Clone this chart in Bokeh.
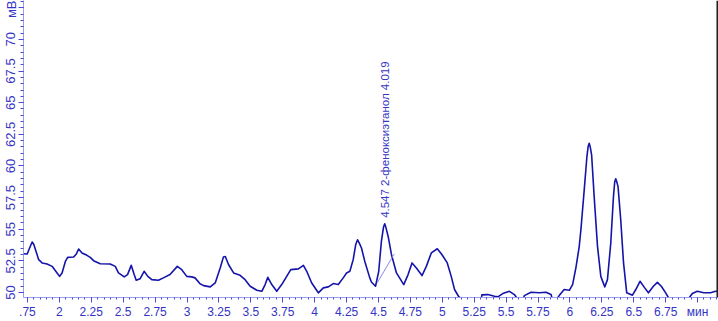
from bokeh.plotting import figure
from bokeh.models import Range1d, SingleIntervalTicker, Span
from bokeh.core.properties import value
from bokeh.embed import file_html
from bokeh.resources import INLINE

# retention time (min) and detector signal (mV)
time_min = [1.721, 1.748, 1.770, 1.787, 1.800, 1.813, 1.838, 1.865, 1.904, 1.943, 1.982, 2.002,
            2.021, 2.047, 2.065, 2.112, 2.133, 2.151, 2.177, 2.216, 2.242, 2.268,
            2.320, 2.398, 2.438, 2.463, 2.508, 2.534, 2.563, 2.586, 2.602, 2.633,
            2.664, 2.693, 2.724, 2.776, 2.815, 2.867, 2.924, 2.959, 2.998, 3.037,
            3.063, 3.102, 3.130, 3.182, 3.221, 3.260, 3.285, 3.300, 3.326, 3.365, 3.416,
            3.455, 3.495, 3.547, 3.586, 3.612, 3.633, 3.664, 3.703, 3.742, 3.781,
            3.813, 3.873, 3.912, 3.938, 3.977, 4.029, 4.068, 4.107, 4.146, 4.185,
            4.224, 4.250, 4.276, 4.302, 4.322, 4.336, 4.348, 4.367, 4.393, 4.432, 4.445, 4.477,
            4.502, 4.523, 4.540, 4.549, 4.558, 4.576, 4.602, 4.641, 4.698, 4.732, 4.763, 4.797,
            4.841, 4.875, 4.914, 4.961, 4.998, 5.039, 5.070, 5.096, 5.127, 5.162,
            5.305, 5.310, 5.357, 5.409, 5.435, 5.474, 5.526, 5.565, 5.596, 5.630,
            5.643, 5.695, 5.760, 5.813, 5.852, 5.865, 5.891, 5.916, 5.955, 5.995,
            6.021, 6.047, 6.073, 6.086, 6.112, 6.133, 6.143, 6.151, 6.159, 6.170, 6.190, 6.216,
            6.242, 6.273, 6.294, 6.320, 6.341, 6.351, 6.359, 6.367, 6.377, 6.398, 6.420, 6.445,
            6.490, 6.516, 6.549, 6.586, 6.615, 6.654, 6.685, 6.716, 6.750, 6.784,
            6.920, 6.959, 6.998, 7.049, 7.102, 7.141, 7.170]
signal_mv = [53.07, 53.05, 53.60, 53.99, 53.80, 53.39, 52.60, 52.34, 52.26, 52.07, 51.55, 51.28,
             51.55, 52.46, 52.78, 52.81, 53.05, 53.44, 53.13, 52.94, 52.78, 52.52,
             52.28, 52.26, 52.07, 51.55, 51.24, 51.42, 52.15, 51.42, 50.97, 51.10,
             51.68, 51.28, 51.02, 50.97, 51.16, 51.42, 52.07, 51.81, 51.28, 51.24,
             51.16, 50.69, 50.55, 50.45, 50.76, 51.94, 52.80, 52.85, 52.20, 51.55, 51.36,
             51.02, 50.50, 50.18, 50.10, 50.63, 51.20, 50.63, 50.10, 50.63, 51.28,
             51.81, 51.87, 52.15, 51.68, 50.76, 49.98, 50.37, 50.45, 50.71, 50.63,
             51.16, 51.55, 51.68, 52.60, 53.80, 54.17, 53.95, 53.52, 52.46, 51.16, 50.84, 50.50,
             51.68, 54.04, 55.20, 55.43, 55.15, 54.43, 52.99, 51.55, 50.63, 51.42, 52.34, 51.94,
             51.34, 52.07, 53.13, 53.46, 52.99, 52.34, 51.28, 50.24, 49.71, 49.40,
             49.40, 49.82, 49.84, 49.71, 49.66, 49.92, 50.10, 49.84, 49.40, 49.40,
             49.76, 50.02, 49.98, 50.02, 49.84, 49.40, 49.40, 49.76, 50.24, 50.18,
             50.63, 51.97, 53.65, 54.96, 58.11, 60.73, 61.55, 61.79, 61.50, 60.87, 57.58, 53.65,
             51.28, 50.45, 51.02, 53.91, 57.58, 58.75, 58.98, 58.75, 58.37, 55.75, 52.34, 49.98,
             49.79, 50.24, 50.89, 50.37, 49.98, 50.50, 50.81, 50.50, 49.98, 49.40,
             49.40, 49.92, 50.10, 49.98, 49.98, 50.10, 50.10]

# integrated peak: apex, label and drawn baseline
peak_time = [4.549]
peak_top_mv = [55.9]
peak_label = ["4.547  2-феноксиэтанол  4.019"]
baseline_time = [4.490, 4.623]
baseline_mv = [50.76, 53.05]

x_label_overrides = {1.75: ".75", 7: "мин"}
y_label_overrides = {72.5: "мВ"}

x_start, x_end = 1.719, 7.164
y_start, y_end = 49.61, 73.07

TRACE = "#1414aa"
LABEL = "#3434c4"
TICK = "#4a4ad4"
AXIS = "#9c9cec"

p = figure(width=718, height=321, output_backend="svg", toolbar_location=None,
           x_range=Range1d(x_start, x_end), y_range=Range1d(y_start, y_end),
           min_border_left=21, min_border_right=0, min_border_top=0,
           min_border_bottom=23, background_fill_color="white",
           border_fill_color="white", outline_line_color=None)
p.grid.visible = False

p.xaxis.ticker = SingleIntervalTicker(interval=0.25, num_minor_ticks=5)
p.yaxis.ticker = SingleIntervalTicker(interval=2.5, num_minor_ticks=5)
p.xaxis.major_label_overrides = x_label_overrides
p.yaxis.major_label_overrides = y_label_overrides

for ax in (p.xaxis, p.yaxis):
    ax.axis_line_color = AXIS
    ax.axis_line_width = 1
    ax.major_tick_line_color = TICK
    ax.minor_tick_line_color = TICK
    ax.major_tick_line_width = 1
    ax.minor_tick_line_width = 1
    ax.major_tick_in = 0
    ax.minor_tick_in = 0
    ax.major_label_text_color = LABEL
    ax.major_label_text_font = "Liberation Sans"

p.xaxis.major_tick_out = 5
p.xaxis.minor_tick_out = 2
p.xaxis.major_label_standoff = 2
p.xaxis.major_label_text_font_size = "12px"

p.yaxis.major_tick_out = 5
p.yaxis.minor_tick_out = 3
p.yaxis.major_label_standoff = 0
p.yaxis.major_label_orientation = "vertical"
p.yaxis.major_label_text_font_size = "13px"

p.line(time_min, signal_mv, line_color=TRACE, line_width=1.6, line_join="round")
p.line(baseline_time, baseline_mv, line_color="#8a8ae0", line_width=1)

p.text(x=peak_time, y=peak_top_mv, text=peak_label, angle=1.5708,
       text_align="left", text_baseline="middle", text_color=LABEL,
       text_font=value("Liberation Sans"), text_font_size="11.5px")

p.add_layout(Span(location=x_end - 0.008, dimension="height", line_color="#202020",
                  line_width=2))

open("out.html", "w").write(file_html(p, INLINE))
